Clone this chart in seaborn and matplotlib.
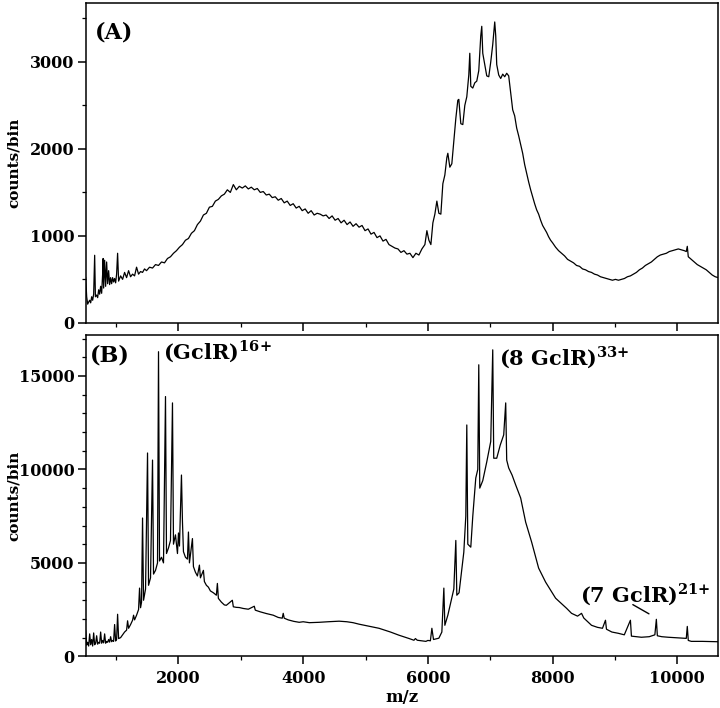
import numpy as np
import pandas as pd
import matplotlib
matplotlib.use("Agg")
import matplotlib.pyplot as plt
from matplotlib.ticker import MultipleLocator
import seaborn as sns

# Spektrum (A): m/z-Werte und Zählraten
mz_a = [512, 528, 544, 560, 576, 592, 608, 624, 640, 656, 668, 688, 704, 720, 736, 752,
        768, 784, 792, 800, 816, 832, 848, 864, 880, 896, 912, 928, 944, 960, 976, 992,
        1008, 1024, 1040, 1072, 1104, 1136, 1168, 1200, 1232, 1264, 1296, 1328, 1360,
        1392, 1424, 1456, 1488, 1536, 1584, 1632, 1680, 1728, 1776, 1824, 1872, 1920,
        1968, 2016, 2064, 2112, 2160, 2208, 2256, 2304, 2352, 2400, 2448, 2496, 2544,
        2592, 2640, 2688, 2736, 2784, 2832, 2880, 2928, 2976, 3024, 3072, 3120, 3168,
        3216, 3264, 3312, 3360, 3408, 3456, 3504, 3552, 3600, 3648, 3696, 3744, 3792,
        3840, 3888, 3936, 3984, 4032, 4080, 4128, 4176, 4224, 4272, 4320, 4368, 4416,
        4464, 4512, 4560, 4608, 4656, 4704, 4752, 4800, 4848, 4896, 4944, 4992, 5040,
        5088, 5136, 5184, 5232, 5280, 5328, 5376, 5424, 5472, 5520, 5568, 5616, 5664,
        5712, 5760, 5808, 5856, 5904, 5952, 5984, 6016, 6048, 6080, 6112, 6144, 6176,
        6208, 6240, 6272, 6304, 6320, 6352, 6384, 6416, 6448, 6480, 6496, 6528, 6560,
        6592, 6624, 6656, 6672, 6688, 6720, 6752, 6784, 6816, 6848, 6864, 6880, 6912,
        6944, 6976, 7008, 7040, 7072, 7088, 7104, 7136, 7168, 7200, 7232, 7264, 7296,
        7328, 7360, 7392, 7424, 7456, 7488, 7520, 7552, 7584, 7616, 7648, 7680, 7712,
        7744, 7776, 7808, 7840, 7872, 7904, 7936, 7968, 8000, 8048, 8096, 8144, 8192,
        8240, 8288, 8336, 8384, 8432, 8480, 8528, 8576, 8624, 8672, 8720, 8768, 8816,
        8864, 8912, 8960, 9008, 9056, 9104, 9152, 9200, 9248, 9296, 9344, 9392, 9440,
        9488, 9536, 9584, 9632, 9680, 9728, 9776, 9824, 9872, 9920, 9968, 10016, 10064,
        10112, 10144, 10160, 10176, 10224, 10272, 10320, 10368, 10416, 10464, 10512,
        10560, 10608, 10656]
counts_a = [525, 300, 215, 240, 260, 230, 300, 260, 330, 777, 300, 320, 290, 380, 330, 420,
            340, 560, 740, 400, 720, 420, 700, 450, 600, 440, 520, 450, 520, 470, 510, 460,
            560, 800, 480, 540, 500, 580, 520, 600, 530, 560, 540, 640, 560,
            590, 580, 620, 600, 640, 630, 670, 660, 700, 690, 740, 760, 800,
            830, 870, 900, 950, 970, 1030, 1060, 1130, 1170, 1240, 1260, 1330, 1340,
            1400, 1420, 1460, 1480, 1530, 1500, 1590, 1530, 1570, 1550, 1575, 1540, 1560,
            1530, 1545, 1500, 1510, 1470, 1480, 1440, 1450, 1410, 1430, 1380, 1400, 1350,
            1370, 1320, 1340, 1290, 1310, 1260, 1290, 1240, 1260, 1250, 1230, 1240, 1200,
            1230, 1180, 1200, 1150, 1180, 1130, 1160, 1110, 1140, 1100, 1120, 1060, 1080,
            1020, 1040, 980, 1000, 940, 960, 900, 880, 860, 850, 810, 830, 790,
            800, 750, 800, 780, 850, 900, 1060, 950, 900, 1150, 1250, 1400, 1260,
            1250, 1600, 1700, 1900, 1950, 1790, 1830, 2090, 2350, 2560, 2570, 2290, 2280,
            2500, 2600, 2850, 3100, 2720, 2700, 2760, 2780, 2900, 3300, 3410, 3100, 2970,
            2840, 2830, 3000, 3200, 3460, 3300, 2970, 2850, 2810, 2860, 2830, 2870, 2840,
            2650, 2450, 2380, 2240, 2150, 2050, 1950, 1820, 1720, 1620, 1530, 1450, 1370,
            1300, 1250, 1180, 1120, 1080, 1040, 990, 950, 920, 870, 830, 800, 770,
            730, 710, 690, 660, 650, 620, 610, 590, 580, 560, 550, 530, 520,
            510, 500, 490, 500, 490, 500, 510, 530, 540, 560, 580, 610, 630,
            660, 680, 700, 730, 760, 780, 790, 800, 820, 830, 840, 850, 840,
            830, 820, 880, 760, 730, 700, 670, 650, 630, 610, 580,
            550, 530, 520]

# Spektrum (B)
mz_b = [512, 528, 544, 560, 576, 592, 608, 624, 640, 656, 672, 688, 704, 720, 736, 752,
        768, 784, 800, 816, 832, 848, 864, 880, 896, 912, 928, 944, 960, 976, 992, 1008,
        1024, 1040, 1072, 1104, 1136, 1168, 1184, 1200, 1232, 1264, 1280, 1296, 1328,
        1360, 1376, 1392, 1408, 1424, 1440, 1456, 1472, 1504, 1520, 1552, 1584, 1600,
        1632, 1664, 1680, 1696, 1728, 1760, 1792, 1808, 1840, 1872, 1904, 1920, 1952,
        1984, 2000, 2016, 2048, 2064, 2080, 2112, 2144, 2160, 2176, 2224, 2240, 2272,
        2304, 2336, 2352, 2400, 2416, 2448, 2480, 2512, 2560, 2608, 2624, 2640, 2688,
        2736, 2768, 2864, 2880, 2928, 2976, 3040, 3120, 3216, 3232, 3312, 3408, 3520,
        3600, 3664, 3680, 3696, 3760, 3850, 3936, 4000, 4100, 4256, 4400, 4576, 4700,
        4800, 4896, 5000, 5216, 5400, 5536, 5700, 5776, 5800, 5830, 5968, 6000, 6040,
        6064, 6090, 6176, 6224, 6256, 6272, 6320, 6368, 6416, 6448, 6464, 6500, 6576,
        6608, 6624, 6640, 6688, 6720, 6768, 6800, 6816, 6832, 6880, 6944, 7008, 7040,
        7056, 7104, 7160, 7216, 7248, 7264, 7296, 7350, 7408, 7488, 7568, 7664, 7776,
        7888, 8048, 8224, 8304, 8400, 8464, 8500, 8624, 8720, 8800, 8848, 8864, 8950,
        9056, 9150, 9248, 9264, 9350, 9424, 9550, 9640, 9664, 9680, 9750, 9856, 9950,
        10050, 10144, 10160, 10176, 10224, 10400, 10656]
counts_b = [1390, 600, 750, 550, 1200, 620, 900, 550, 1250, 620, 700, 1100, 650, 750, 700, 1300,
            700, 850, 720, 1200, 700, 800, 750, 900, 760, 1050, 780, 850, 800, 1700, 820, 900,
            2250, 950, 1000, 1150, 1300, 1400, 1900, 1500, 1700, 1930, 2200, 1950, 2200,
            2500, 3650, 2600, 2900, 7400, 3000, 3300, 3600, 10880, 3800, 4200, 10500, 4400,
            4600, 5000, 16300, 5100, 5300, 5000, 13900, 5500, 5800, 6200, 13560, 6000, 6500,
            5500, 6600, 5900, 9700, 7200, 5600, 5300, 5200, 6650, 5000, 6300, 4800, 4500,
            4300, 4880, 4200, 4600, 4000, 3800, 3700, 3500, 3400, 3270, 3900, 3100, 2900,
            2750, 2730, 3000, 2650, 2620, 2610, 2560, 2520, 2680, 2470, 2380, 2290, 2200,
            2080, 2040, 2300, 2040, 1950, 1870, 1820, 1850, 1800, 1820, 1850, 1880, 1850,
            1800, 1720, 1650, 1500, 1300, 1130, 950, 860, 950, 860, 800, 850, 830,
            1500, 900, 970, 1300, 3650, 1660, 2200, 2900, 3600, 6200, 3270, 3400, 5570,
            7500, 12380, 6000, 5840, 7500, 9540, 10000, 15600, 9000, 9400, 10400, 11500, 16400,
            10600, 10600, 11300, 11850, 13560, 10500, 10080, 9700, 9170, 8470, 7180, 6110, 4720,
            3970, 3110, 2570, 2300, 2150, 2300, 2050, 1660, 1550, 1500, 1930, 1450, 1300,
            1230, 1150, 1930, 1080, 1050, 1020, 1050, 1150, 1980, 1100, 1050, 1020, 1000,
            980, 960, 1600, 850, 800, 800, 780]

df_a = pd.DataFrame({"mz": mz_a, "counts": counts_a})
df_b = pd.DataFrame({"mz": mz_b, "counts": counts_b})

sns.set_style("ticks")
plt.rcParams["font.family"] = ["DejaVu Serif"]
plt.rcParams["font.weight"] = "bold"
plt.rcParams["mathtext.fontset"] = "custom"
plt.rcParams["mathtext.bf"] = "DejaVu Serif:bold"
plt.rcParams["mathtext.rm"] = "DejaVu Serif:bold"
for key in ["text.color", "axes.labelcolor", "xtick.color", "ytick.color", "axes.edgecolor"]:
    plt.rcParams[key] = "black"

fig = plt.figure(figsize=(7.2, 7.08), dpi=100)
ax_a = fig.add_axes([0.119, 0.544, 0.878, 0.452])
ax_b = fig.add_axes([0.119, 0.073, 0.878, 0.454])

for ax, df in [(ax_a, df_a), (ax_b, df_b)]:
    sns.lineplot(data=df, x="mz", y="counts", ax=ax, color="black", lw=0.9,
                 estimator=None, sort=False)
    ax.set_xlim(512, 10650)
    ax.xaxis.set_major_locator(MultipleLocator(2000))
    ax.xaxis.set_minor_locator(MultipleLocator(1000))
    for s in ax.spines.values():
        s.set_linewidth(1.1)
    ax.tick_params(which="major", direction="out", length=6, width=1.1, labelsize=11.5)
    ax.tick_params(axis="y", which="major", pad=2)
    ax.tick_params(which="minor", direction="out", length=3, width=0.9)
    ax.set_ylabel("counts/bin", fontsize=11, fontweight="bold")
    ax.set_xlabel("")

ax_a.set_ylim(0, 3680)
ax_a.yaxis.set_major_locator(MultipleLocator(1000))
ax_a.yaxis.set_minor_locator(MultipleLocator(500))
ax_a.tick_params(axis="x", labelbottom=False)
ax_a.text(656, 3270, "(A)", fontsize=16, fontweight="bold")

ax_b.set_ylim(0, 17200)
ax_b.yaxis.set_major_locator(MultipleLocator(5000))
ax_b.yaxis.set_minor_locator(MultipleLocator(1000))
ax_b.set_xlabel("m/z", fontsize=12, fontweight="bold", labelpad=2)
ax_b.text(576, 15760, "(B)", fontsize=16, fontweight="bold")
ax_b.text(1744, 15870, r"(GclR)$^{\mathbf{16{+}}}$", fontsize=15, fontweight="bold")
ax_b.text(7136, 15600, r"(8 GclR)$^{\mathbf{33{+}}}$", fontsize=15, fontweight="bold")
ax_b.text(8432, 2900, r"(7 GclR)$^{\mathbf{21{+}}}$", fontsize=15, fontweight="bold")
ax_b.annotate("", xy=(9584, 2200), xytext=(9248, 2840),
              arrowprops=dict(arrowstyle="-", lw=1, color="black"))

for ax in (ax_a, ax_b):
    ax.yaxis.set_label_coords(-0.103, 0.5)

fig.savefig("out.png", dpi=100, facecolor="white")
